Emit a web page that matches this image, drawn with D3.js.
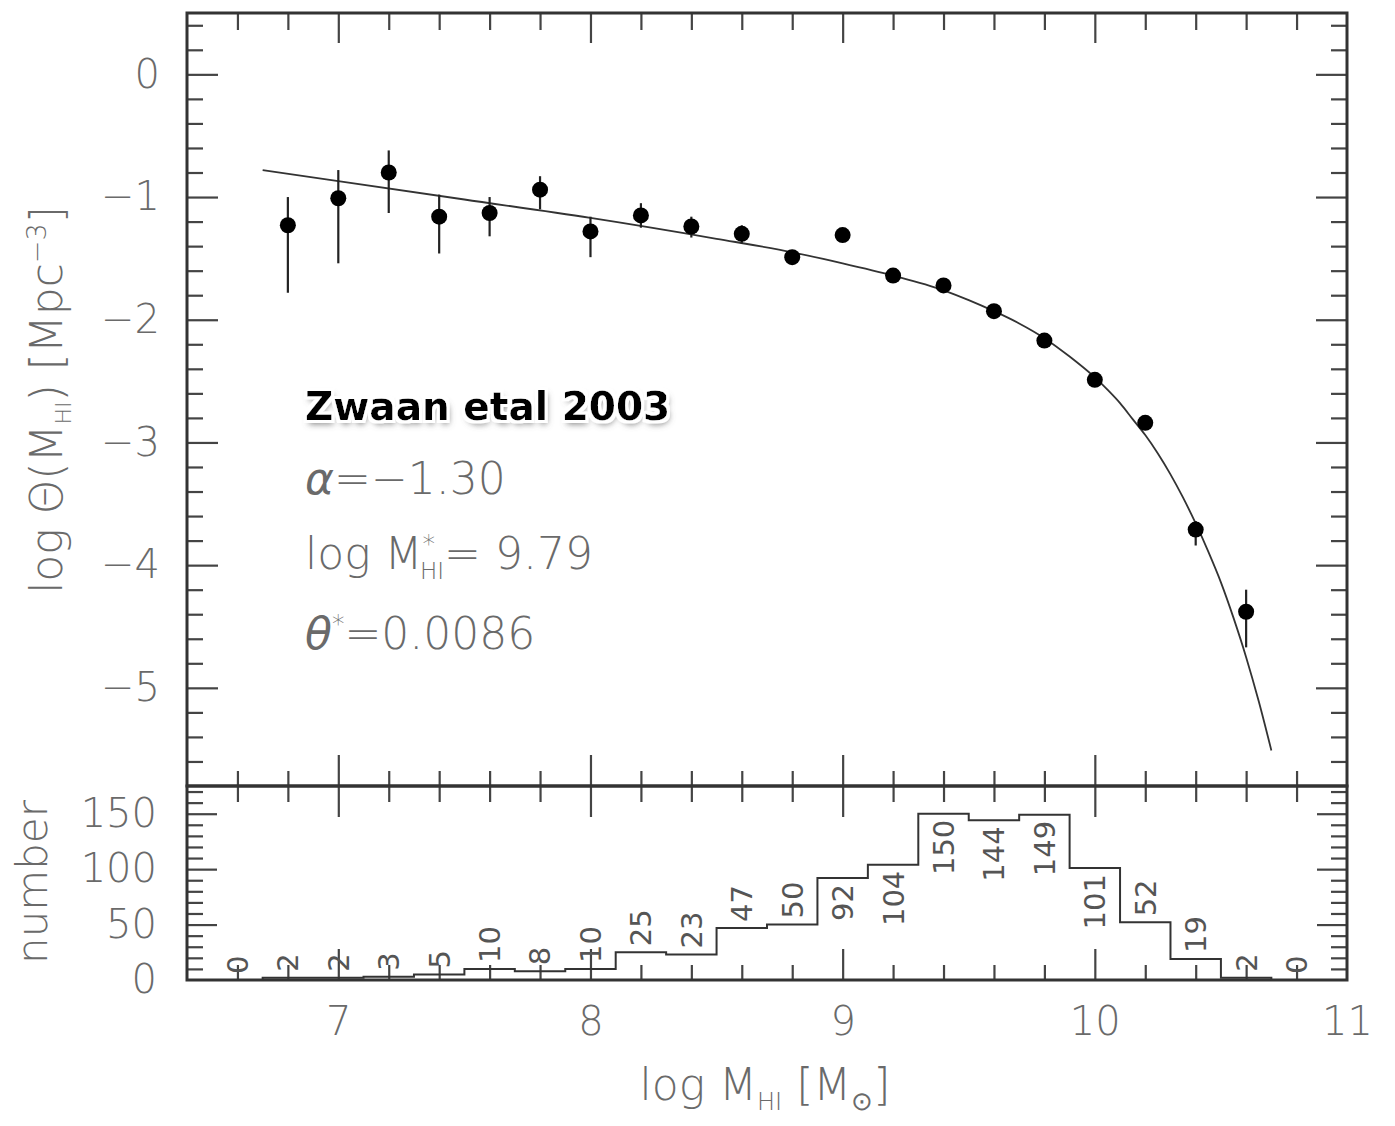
<!DOCTYPE html>
<html>
<head>
<meta charset="utf-8">
<script src="https://cdn.jsdelivr.net/npm/d3@7"></script>
<style>
  body { margin: 0; background: #fff; }
  svg text { font-family: "DejaVu Sans", sans-serif; }
</style>
</head>
<body>
<div id="chart"></div>
<script>
// HI mass function (Zwaan et al 2003) with number histogram below

// measured points: log M_HI, log theta, error bar bounds
const massBins = [6.8, 7.0, 7.2, 7.4, 7.6, 7.8, 8.0, 8.2, 8.4, 8.6, 8.8, 9.0, 9.2, 9.4, 9.6, 9.8, 10.0, 10.2, 10.4, 10.6];
const logTheta = [-1.23, -1.01, -0.80, -1.16, -1.13, -0.94, -1.28, -1.15, -1.24, -1.30, -1.49, -1.31, -1.64, -1.72, -1.93, -2.17, -2.49, -2.84, -3.71, -4.38];
const errLow   = [-1.78, -1.54, -1.13, -1.46, -1.32, -1.10, -1.49, -1.25, -1.33, -1.38, -1.54, -1.35, -1.68, -1.76, -1.97, -2.21, -2.53, -2.89, -3.84, -4.67];
const errHigh  = [-1.00, -0.78, -0.62, -0.98, -1.00, -0.83, -1.16, -1.05, -1.16, -1.23, -1.44, -1.27, -1.60, -1.68, -1.89, -2.13, -2.45, -2.79, -3.64, -4.20];

// fitted curve
const fitMass     = [6.7, 7.0, 7.5, 8.0, 8.5, 8.8, 9.0, 9.2, 9.4, 9.5, 9.6, 9.7, 9.8, 9.9, 10.0, 10.05, 10.1, 10.15, 10.2, 10.25, 10.3, 10.35, 10.4, 10.45, 10.5, 10.55, 10.6, 10.65, 10.7];
const fitLogTheta = [-0.78, -0.87, -1.02, -1.17, -1.34, -1.45, -1.54, -1.64, -1.76, -1.84, -1.93, -2.03, -2.15, -2.30, -2.47, -2.57, -2.68, -2.81, -2.94, -3.09, -3.26, -3.45, -3.66, -3.89, -4.14, -4.43, -4.75, -5.11, -5.51];

// histogram of galaxy numbers
const histCenters = [6.6, 6.8, 7.0, 7.2, 7.4, 7.6, 7.8, 8.0, 8.2, 8.4, 8.6, 8.8, 9.0, 9.2, 9.4, 9.6, 9.8, 10.0, 10.2, 10.4, 10.6, 10.8];
const histCounts  = [0, 2, 2, 3, 5, 10, 8, 10, 25, 23, 47, 50, 92, 104, 150, 144, 149, 101, 52, 19, 2, 0];

const xTickLabels = [7, 8, 9, 10, 11];
const yTickLabels = [0, -1, -2, -3, -4, -5];
const histTickLabels = [0, 50, 100, 150];

const W = 1395, H = 1126;
const x0 = 187, x1 = 1347, yTop = 13, yMid = 786, yBot = 980;
const binWidth = 0.2;

const x  = d3.scaleLinear().domain([6.4, 11]).range([x0, x1]);
const y  = d3.scaleLinear().domain([-5.8, 0.5]).range([yMid, yTop]);
const yh = d3.scaleLinear().domain([0, 175]).range([yBot, yMid]);

const svg = d3.select('#chart').append('svg').attr('width', W).attr('height', H);

const inkTick = '#444', inkText = '#6a6a6a';

const xMinor  = d3.range(6.6, 10.95, 0.2).filter(v => Math.abs(v - Math.round(v)) > 0.01);
const xMajor  = [7, 8, 9, 10];
const yMinor  = d3.range(-5.6, 0.45, 0.2).filter(v => Math.abs(v - Math.round(v)) > 0.01);
const hMinor  = d3.range(10, 175, 10).filter(v => v % 50 !== 0);
const hMajor  = [50, 100, 150];

function tickRow(gen, scale, vals, len, tx, ty, pad, fmt) {
  const g = svg.append('g').attr('transform', `translate(${tx},${ty})`)
    .call(gen(scale).tickValues(vals).tickSizeInner(-len).tickSizeOuter(0)
      .tickPadding(pad || 0).tickFormat(fmt || (() => '')));
  g.select('.domain').remove();
  g.selectAll('.tick line').attr('stroke', inkTick).attr('stroke-width', 2.2);
  g.selectAll('.tick text').attr('fill', inkText).attr('font-size', 40)
    .style('font-family', '"DejaVu Sans", sans-serif').style('font-weight', 200);
  return g;
}

// top panel ticks
tickRow(d3.axisTop, x, xMinor, 17, 0, yTop);
tickRow(d3.axisTop, x, xMajor, 30, 0, yTop);
tickRow(d3.axisBottom, x, xMinor, 15, 0, yMid);
tickRow(d3.axisBottom, x, xMajor, 31, 0, yMid);
tickRow(d3.axisLeft, y, yMinor, 16, x0, 0);
tickRow(d3.axisLeft, y, yTickLabels, 31, x0, 0, 27, d => d === 0 ? '0' : '\u2212' + Math.abs(d));
tickRow(d3.axisRight, y, yMinor, 16, x1, 0);
tickRow(d3.axisRight, y, yTickLabels, 31, x1, 0);

// histogram ticks
tickRow(d3.axisTop, x, xMinor, 16, 0, yMid);
tickRow(d3.axisTop, x, xMajor, 31, 0, yMid);
tickRow(d3.axisBottom, x, xMinor, 15, 0, yBot);
tickRow(d3.axisBottom, x, xMajor, 31, 0, yBot);
tickRow(d3.axisBottom, x, xTickLabels, 0, 0, yBot, 27, d3.format('d'));
tickRow(d3.axisLeft, yh, hMinor, 16, x0, 0);
tickRow(d3.axisLeft, yh, hMajor, 30, x0, 0);
tickRow(d3.axisLeft, yh, histTickLabels, 0, x0, 0, 30, d3.format('d'));
tickRow(d3.axisRight, yh, hMinor, 16, x1, 0);
tickRow(d3.axisRight, yh, hMajor, 30, x1, 0);

// frames
svg.append('rect').attr('x', x0).attr('y', yTop).attr('width', x1 - x0).attr('height', yMid - yTop)
  .attr('fill', 'none').attr('stroke', '#333').attr('stroke-width', 3);
svg.append('rect').attr('x', x0).attr('y', yMid).attr('width', x1 - x0).attr('height', yBot - yMid)
  .attr('fill', 'none').attr('stroke', '#333').attr('stroke-width', 3);

// fit curve
svg.append('path')
  .datum(fitMass.map((m, i) => [m, fitLogTheta[i]]))
  .attr('d', d3.line().x(d => x(d[0])).y(d => y(d[1])).curve(d3.curveMonotoneX))
  .attr('fill', 'none').attr('stroke', '#333').attr('stroke-width', 1.8);

// error bars and points
const pts = massBins.map((m, i) => ({ m, v: logTheta[i], lo: errLow[i], hi: errHigh[i] }));
svg.append('g').selectAll('line').data(pts).join('line')
  .attr('x1', d => x(d.m)).attr('x2', d => x(d.m))
  .attr('y1', d => y(d.lo)).attr('y2', d => y(d.hi))
  .attr('stroke', '#222').attr('stroke-width', 2.2);
svg.append('g').selectAll('circle').data(pts).join('circle')
  .attr('cx', d => x(d.m)).attr('cy', d => y(d.v)).attr('r', 8).attr('fill', '#000');

// histogram step outline
const steps = histCenters.map((c, i) => [c - binWidth / 2, histCounts[i]]);
steps.push([histCenters[histCenters.length - 1] + binWidth / 2, histCounts[histCounts.length - 1]]);
svg.append('path').datum(steps)
  .attr('d', d3.line().x(d => x(d[0])).y(d => yh(d[1])).curve(d3.curveStepAfter))
  .attr('fill', 'none').attr('stroke', '#333').attr('stroke-width', 2);

// count labels, rotated
svg.append('g').selectAll('text').data(histCenters.map((c, i) => ({ c, n: histCounts[i] }))).join('text')
  .attr('transform', d => {
    const yy = d.n >= 90 ? yh(d.n) + 6 : yh(d.n) - 6;
    return `translate(${x(d.c)},${yy}) rotate(-90)`;
  })
  .attr('text-anchor', d => d.n >= 90 ? 'end' : 'start')
  .attr('dy', '0.36em')
  .attr('font-size', 29).attr('fill', '#555')
  .text(d => d.n);

// axis titles
const yTitle = svg.append('text').attr('transform', 'translate(62,400) rotate(-90)')
  .attr('text-anchor', 'middle').attr('font-size', 44).attr('fill', inkText).style('font-weight', 200);
yTitle.append('tspan').text('log \u0398(M');
yTitle.append('tspan').attr('font-size', 22).attr('dy', 9).text('HI');
yTitle.append('tspan').attr('dy', -9).text(')  [Mpc');
yTitle.append('tspan').attr('font-size', 27).attr('dy', -16).text('\u22123');
yTitle.append('tspan').attr('dy', 16).text(']');

svg.append('text').attr('transform', 'translate(47,882) rotate(-90)')
  .attr('text-anchor', 'middle').attr('font-size', 42).attr('fill', inkText).style('font-weight', 200)
  .text('number');

const xTitle = svg.append('text').attr('x', 765).attr('y', 1100)
  .attr('text-anchor', 'middle').attr('font-size', 44).attr('fill', inkText).style('font-weight', 200);
xTitle.append('tspan').text('log  M');
xTitle.append('tspan').attr('font-size', 24).attr('dy', 10).text('HI');
xTitle.append('tspan').attr('dy', -10).text(' [M');
xTitle.append('tspan').attr('font-size', 26).attr('dy', 10).text('\u2299');
xTitle.append('tspan').attr('dy', -10).text(']');

// annotation block
const defs = svg.append('defs');
const f = defs.append('filter').attr('id', 'glow').attr('x', '-10%').attr('y', '-30%').attr('width', '120%').attr('height', '170%');
f.append('feGaussianBlur').attr('in', 'SourceAlpha').attr('stdDeviation', 3).attr('result', 'blur');
f.append('feOffset').attr('in', 'blur').attr('dx', 2).attr('dy', 4).attr('result', 'off');
f.append('feFlood').attr('flood-color', '#666').attr('flood-opacity', 0.85).attr('result', 'grey');
f.append('feComposite').attr('in', 'grey').attr('in2', 'off').attr('operator', 'in').attr('result', 'shadow');
f.append('feMorphology').attr('in', 'SourceAlpha').attr('operator', 'dilate').attr('radius', 2.5).attr('result', 'fat');
f.append('feFlood').attr('flood-color', '#fff').attr('result', 'white');
f.append('feComposite').attr('in', 'white').attr('in2', 'fat').attr('operator', 'in').attr('result', 'halo');
const fm = f.append('feMerge');
fm.append('feMergeNode').attr('in', 'shadow');
fm.append('feMergeNode').attr('in', 'halo');
fm.append('feMergeNode').attr('in', 'SourceGraphic');

svg.append('text').attr('x', 305).attr('y', 420)
  .attr('font-size', 39).attr('font-weight', 'bold').attr('fill', '#000')
  .attr('filter', 'url(#glow)')
  .text('Zwaan etal 2003');

const a1 = svg.append('text').attr('x', 305).attr('y', 494).attr('font-size', 44).attr('fill', inkText).style('font-weight', 200);
a1.append('tspan').attr('font-style', 'italic').text('\u03b1');
a1.append('tspan').text('=\u22121.30');

const a2 = svg.append('text').attr('x', 305).attr('y', 569).attr('font-size', 44).attr('fill', inkText).style('font-weight', 200);
a2.append('tspan').text('log  M');
a2.append('tspan').attr('font-size', 25).attr('dy', -17).text('*');
a2.append('tspan').attr('font-size', 23).attr('dx', -15).attr('dy', 27).text('HI');
a2.append('tspan').attr('dy', -10).text('=  9.79');

const a3 = svg.append('text').attr('x', 305).attr('y', 649).attr('font-size', 44).attr('fill', inkText).style('font-weight', 200);
a3.append('tspan').attr('font-style', 'italic').text('\u03b8');
a3.append('tspan').attr('font-size', 25).attr('dy', -17).text('*');
a3.append('tspan').attr('dy', 17).text('=0.0086');
</script>
</body>
</html>
